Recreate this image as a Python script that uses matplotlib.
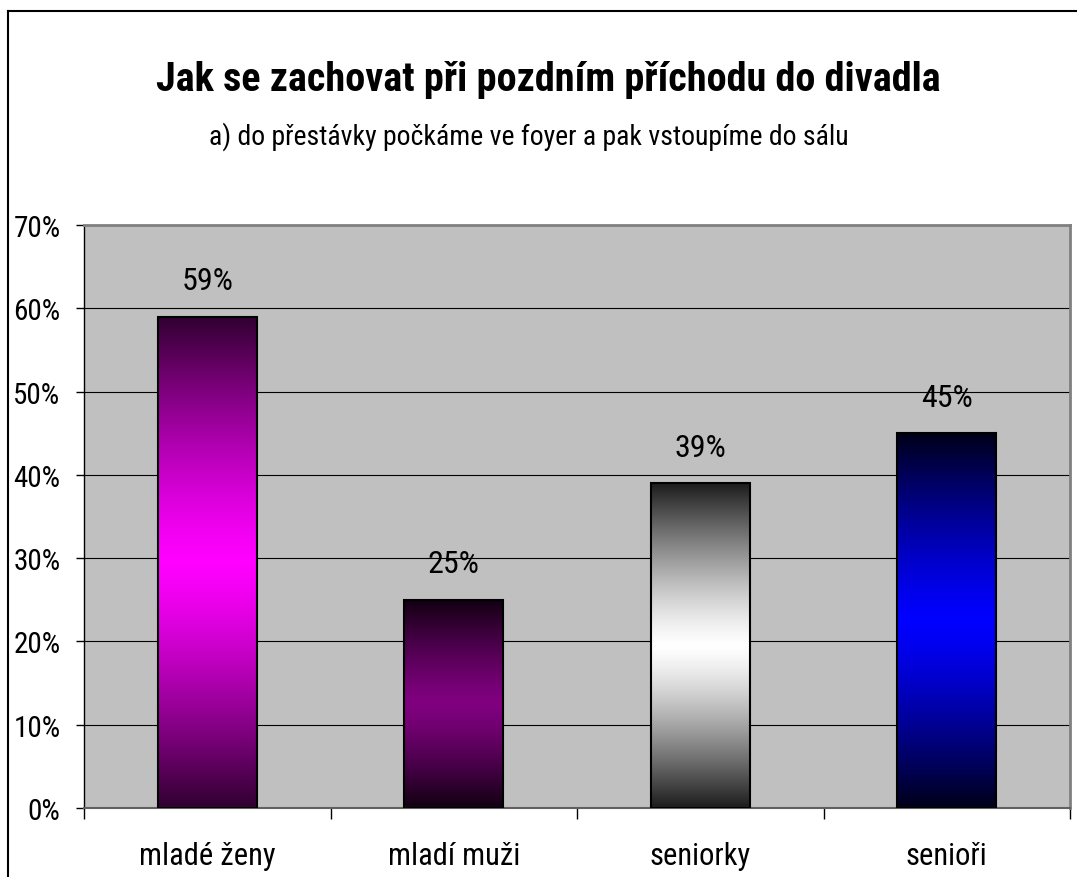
import numpy as np
import matplotlib
matplotlib.use("Agg")
import matplotlib.pyplot as plt
from matplotlib.colors import ListedColormap, to_rgb
from matplotlib.lines import Line2D
from matplotlib.ticker import MultipleLocator, FuncFormatter

categories = ["mladé ženy", "mladí muži", "seniorky", "senioři"]
values = [59, 25, 39, 45]
labels = ["59%", "25%", "39%", "45%"]
edge_colors = ["#300030", "#100010", "#1c1c1c", "#000018"]
center_colors = ["#FF00FF", "#800080", "#FFFFFF", "#0000FF"]

title = "Jak se zachovat při pozdním příchodu do divadla"
subtitle = "a) do přestávky počkáme ve foyer a pak vstoupíme do sálu"

FONT = ["Roboto Condensed", "Liberation Sans", "DejaVu Sans"]
plt.rcParams["font.family"] = FONT

fig = plt.figure(figsize=(10.77, 8.78), dpi=100)
ax = fig.add_axes([84/1077, 1-809/878, (1070-84)/1077, (809-226)/878])
ax.set_facecolor("#C0C0C0")

x = np.arange(len(categories))
bars = ax.bar(x, values, width=0.4, facecolor="none", edgecolor="black",
              linewidth=1.5, zorder=3)

t = np.linspace(0, 1, 512)
u = 1 - np.abs(2 * t - 1)
f = 1 - (1 - u) ** 1.3
for b, c0, c1 in zip(bars, edge_colors, center_colors):
    a0, a1 = np.array(to_rgb(c0)), np.array(to_rgb(c1))
    cols = a0[None, :] + (a1 - a0)[None, :] * f[:, None]
    cmap = ListedColormap(cols)
    grad = t.reshape(-1, 1)
    bx, by = b.get_x(), b.get_y()
    w, h = b.get_width(), b.get_height()
    im = ax.imshow(grad, cmap=cmap, aspect="auto", extent=(bx, bx + w, by, by + h),
                   origin="lower", zorder=2, interpolation="bilinear")
    im.set_clip_path(b)

for xi, v, lab in zip(x, values, labels):
    ax.annotate(lab, (xi, v), xytext=(0, 26), textcoords="offset points",
                ha="center", va="center", fontsize=23, color="black")

ax.set_xlim(-0.5, 3.5)
ax.set_ylim(0, 70)
ax.yaxis.set_major_locator(MultipleLocator(10))
ax.yaxis.set_major_formatter(FuncFormatter(lambda v, p: f"{int(round(v))}%"))
ax.grid(axis="y", color="black", linewidth=0.8, zorder=1)
ax.set_axisbelow(True)

ax.set_xticks(x)
ax.set_xticklabels(categories)
ax.set_xticks(np.arange(-0.5, 4.0, 1.0), minor=True)
ax.tick_params(axis="x", which="major", length=0, pad=24, labelsize=22)
ax.tick_params(axis="x", which="minor", length=8, width=1, color="black", direction="out")
ax.tick_params(axis="y", length=6, width=1, color="black", direction="out", labelsize=21, pad=11)

ax.spines["left"].set_color("black")
ax.spines["left"].set_linewidth(1)
ax.spines["bottom"].set_color("#606060")
ax.spines["bottom"].set_linewidth(1.5)
ax.spines["top"].set_color("#808080")
ax.spines["top"].set_linewidth(2)
ax.spines["right"].set_color("#808080")
ax.spines["right"].set_linewidth(2)

fig.text(548/1077, 1-80/878, title, ha="center", va="center", fontsize=29, fontweight="bold")
fig.text(529/1077, 1-137/878, subtitle, ha="center", va="center", fontsize=20)

fig.add_artist(Line2D([8/1077, 1], [1-12/878, 1-12/878], transform=fig.transFigure, color="black", lw=1.5))
fig.add_artist(Line2D([8/1077, 8/1077], [1-12/878, 0], transform=fig.transFigure, color="black", lw=1.5))

fig.savefig("out.png", dpi=100)
